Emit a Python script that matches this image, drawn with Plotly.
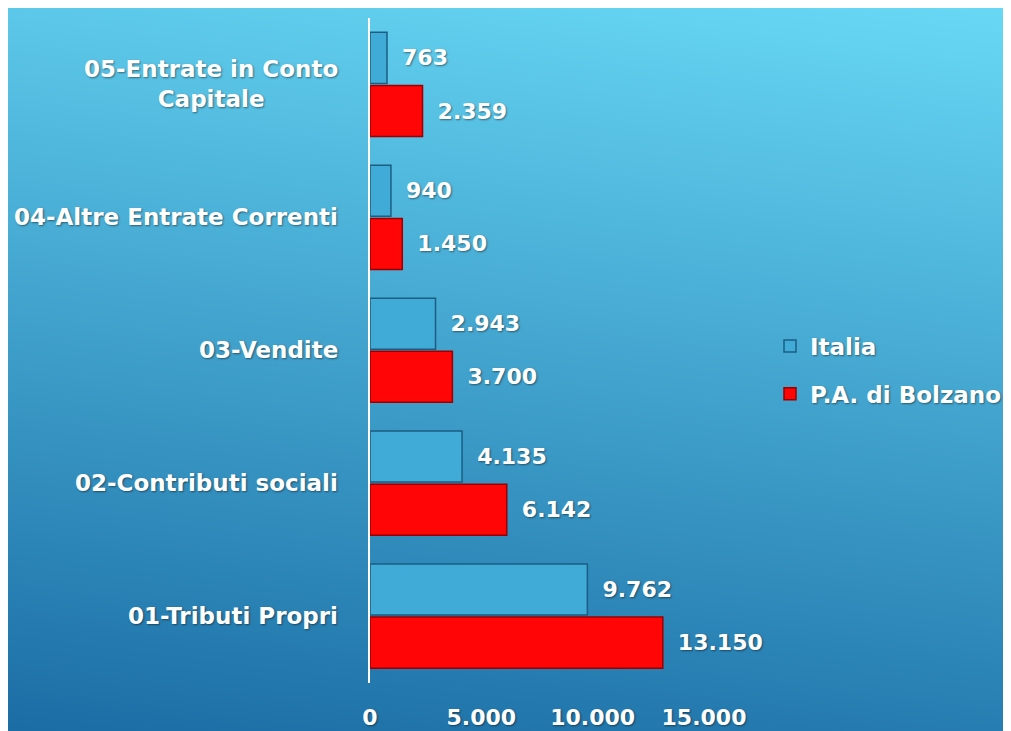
import plotly.graph_objects as go

categories = ["01-Tributi Propri", "02-Contributi sociali", "03-Vendite",
              "04-Altre Entrate Correnti", "05-Entrate in Conto Capitale"]
category_labels = ["01-Tributi Propri", "02-Contributi sociali", "03-Vendite",
                   "04-Altre Entrate Correnti", "05-Entrate in Conto<br>Capitale"]
italia = [9762, 4135, 2943, 940, 763]
bolzano = [13150, 6142, 3700, 1450, 2359]
x_ticks = [0, 5000, 10000, 15000]

W, H = 1011, 731
OFF = 8  # page body margin: figure is drawn 8px in from the window corner
FONT = "DejaVu Sans"
SHADOW = "1px 1px 2px rgba(0,0,0,0.45)"


def px_x(v):
    return (v - OFF) / W


def px_y(v):
    return 1 - (v - OFF) / H


fig = go.Figure()

# background gradient (dark bottom-left -> light top-right)
fig.add_trace(go.Heatmap(
    z=[[0.0, 0.15], [0.85, 1.0]], x=[0, 1], y=[0, 1],
    colorscale=[[0, "#1A6CA4"], [1, "#68D8F5"]],
    zsmooth="best", showscale=False, hoverinfo="skip",
    xaxis="x", yaxis="y",
))

fig.add_trace(go.Bar(
    name="P.A. di Bolzano", y=categories, x=bolzano, orientation="h",
    marker=dict(color="#FF0505", line=dict(color="#9A0000", width=1.5)),
    texttemplate="\u00a0\u2009%{x:,}", textposition="outside",
    cliponaxis=False, constraintext="none", legendgroup="b", legendrank=2,
    textfont=dict(family=FONT, size=22, color="white", weight="bold", shadow=SHADOW),
    xaxis="x2", yaxis="y2",
))
fig.add_trace(go.Bar(
    name="Italia", y=categories, x=italia, orientation="h",
    marker=dict(color="#40ABD6", line=dict(color="#1B5E82", width=1.5)),
    texttemplate="\u00a0\u2009%{x:,}", textposition="outside",
    cliponaxis=False, constraintext="none", legendgroup="a", legendrank=1,
    textfont=dict(family=FONT, size=22, color="white", weight="bold", shadow=SHADOW),
    xaxis="x2", yaxis="y2",
))

for cat, lab in zip(categories, category_labels):
    fig.add_annotation(
        x=px_x(340), xref="paper", xanchor="right", y=cat, yref="y2",
        yanchor="middle", text=lab, showarrow=False, align="center",
        font=dict(family=FONT, size=23, color="white", weight="bold", shadow=SHADOW),
    )

fig.update_layout(
    width=W, height=H,
    margin=dict(l=0, r=0, t=0, b=0, autoexpand=False),
    paper_bgcolor="#3EA0D0", plot_bgcolor="rgba(0,0,0,0)",
    separators=",.",
    barmode="group", bargap=0.2, bargroupgap=0.04,
    xaxis=dict(domain=[0, 1], range=[0, 1], visible=False, fixedrange=True),
    yaxis=dict(domain=[0, 1], range=[0, 1], visible=False, fixedrange=True),
    xaxis2=dict(
        domain=[px_x(370), px_x(704)], anchor="y2", range=[0, 15000],
        tickvals=x_ticks, tickformat=",", showgrid=False, zeroline=False,
        showline=False, ticks="", ticklabelstandoff=19,
        tickfont=dict(family=FONT, size=22, color="white", weight="bold", shadow=SHADOW),
    ),
    yaxis2=dict(
        domain=[px_y(682.5), px_y(18)], anchor="x2",
        showticklabels=False, showgrid=False, zeroline=False,
        showline=True, linecolor="white", linewidth=2, ticks="",
    ),
    showlegend=True,
    legend=dict(
        x=px_x(770), y=px_y(370), xanchor="left", yanchor="middle",
        traceorder="grouped", tracegroupgap=15, bgcolor="rgba(0,0,0,0)",
        font=dict(family=FONT, size=23, color="white", weight="bold", shadow=SHADOW),
    ),
)

fig.write_html("out.html")
